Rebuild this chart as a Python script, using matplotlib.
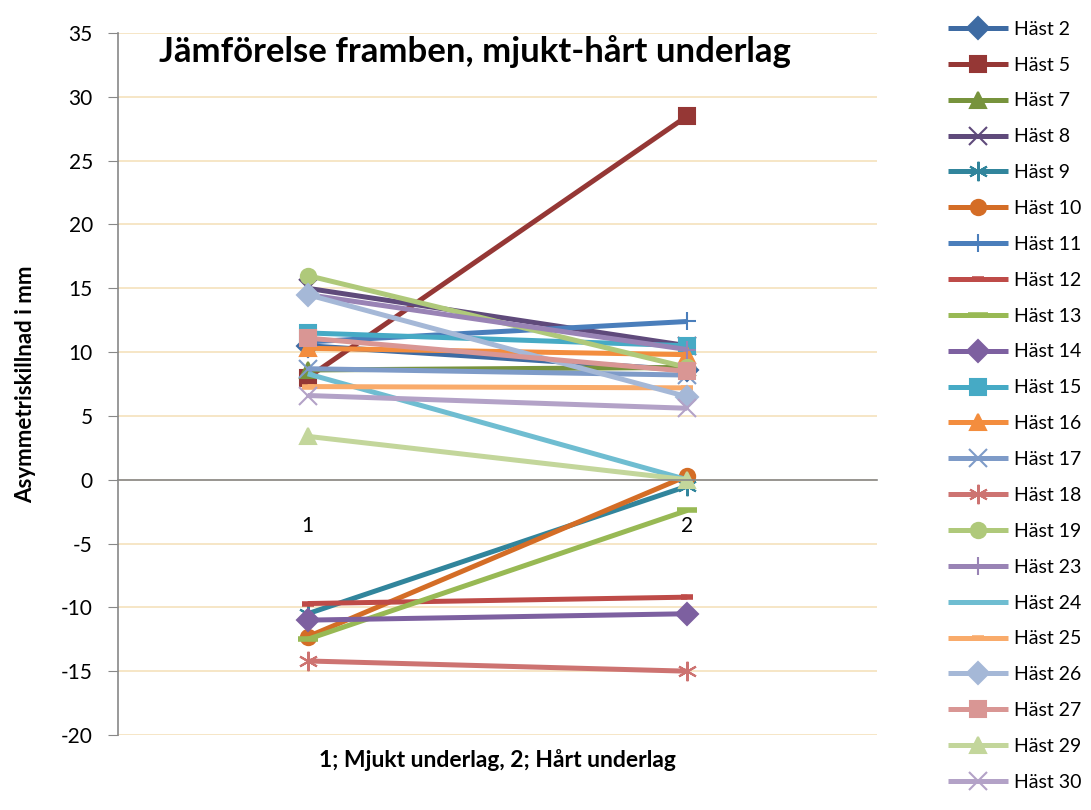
import numpy as np
import matplotlib.pyplot as plt

plt.rcParams['font.family'] = ['Lato', 'DejaVu Sans']
plt.rcParams['axes.unicode_minus'] = False

# underlag: 1 = mjukt, 2 = hårt
kategorier = [1, 2]
hastar = ["Häst 2", "Häst 5", "Häst 7", "Häst 8", "Häst 9", "Häst 10", "Häst 11",
          "Häst 12", "Häst 13", "Häst 14", "Häst 15", "Häst 16", "Häst 17", "Häst 18",
          "Häst 19", "Häst 23", "Häst 24", "Häst 25", "Häst 26", "Häst 27", "Häst 29",
          "Häst 30"]
mjukt = [10.5, 8.0, 8.6, 15.0, -10.5, -12.3, 10.8, -9.7, -12.5, -11.0, 11.5, 10.3,
         8.7, -14.2, 16.0, 14.5, 8.3, 7.3, 14.5, 11.1, 3.4, 6.6]
hart = [8.6, 28.5, 8.8, 10.5, -0.5, 0.3, 12.4, -9.2, -2.4, -10.5, 10.5, 9.8,
        8.2, -15.0, 8.8, 10.2, 0.0, 7.2, 6.5, 8.5, 0.0, 5.6]

farger = ["#3E6BA3", "#953735", "#77933C", "#5F4A7B", "#31859C", "#D46D26",
          "#4A7EBB", "#BE4B48", "#98B954", "#7D60A0", "#46AAC5", "#F38D3E",
          "#7E9BC8", "#CD7371", "#AFC97A", "#9983B5", "#6FBDD1", "#F9AB6B",
          "#A5B8D7", "#D99694", "#C3D69B", "#B3A2C7"]
markorer = ["D", "s", "^", "x", (6, 2, 0), "o", "+", "_", "_",
            "D", "s", "^", "x", (6, 2, 0), "o", "+", "None", "_",
            "D", "s", "^", "x"]

fig = plt.figure(figsize=(10.91, 8.10), dpi=100)
ax = fig.add_axes([0.108, 0.0926, 0.696, 0.8666])

for i in range(len(hastar)):
    m = markorer[i]
    ms = 11
    mew = 1.5
    if m in ("x", "+"):
        ms = 13
    if m == "_":
        ms = 9 if i != 8 else 14
        mew = 4
    if isinstance(m, tuple):
        ms = 14
    ax.plot(kategorier, [mjukt[i], hart[i]], color=farger[i], lw=3.6,
            marker=m, markersize=ms, markeredgewidth=mew,
            markerfacecolor=farger[i], markeredgecolor=farger[i],
            label=hastar[i], solid_capstyle='butt')

ax.set_xlim(0.5, 2.5)
ax.set_ylim(-20, 35)
ax.set_yticks(np.arange(-20, 36, 5))
ax.set_xticks(kategorier)
ax.set_xticklabels(["1", "2"])
ax.grid(axis='y', color='#F5E1BC', lw=1.2)
ax.set_axisbelow(True)
ax.spines['top'].set_visible(False)
ax.spines['right'].set_visible(False)
ax.spines['bottom'].set_position(('data', 0))
ax.spines['bottom'].set_color('#888888')
ax.spines['left'].set_color('#888888')
ax.spines['bottom'].set_linewidth(1.2)
ax.spines['left'].set_linewidth(1.2)
ax.tick_params(axis='x', length=0, pad=26, labelsize=15)
ax.tick_params(axis='y', length=7, color='#888888', labelsize=15, pad=11)

ax.set_ylabel("Asymmetriskillnad i mm", fontsize=16, fontweight='bold', labelpad=18)
ax.text(0.5, -0.035, "1; Mjukt underlag, 2; Hårt underlag", transform=ax.transAxes,
        ha='center', va='center', fontsize=16.5, fontweight='bold')
ax.text(0.47, 0.973, "Jämförelse framben, mjukt-hårt underlag", transform=ax.transAxes,
        ha='center', va='center', fontsize=25, fontweight='bold')

fig.legend(loc='upper left', bbox_to_anchor=(0.862, 0.984), frameon=False,
           fontsize=14, handlelength=3.1, labelspacing=0.97, handletextpad=0.3,
           borderaxespad=0)

plt.savefig("out.png", dpi=100)
